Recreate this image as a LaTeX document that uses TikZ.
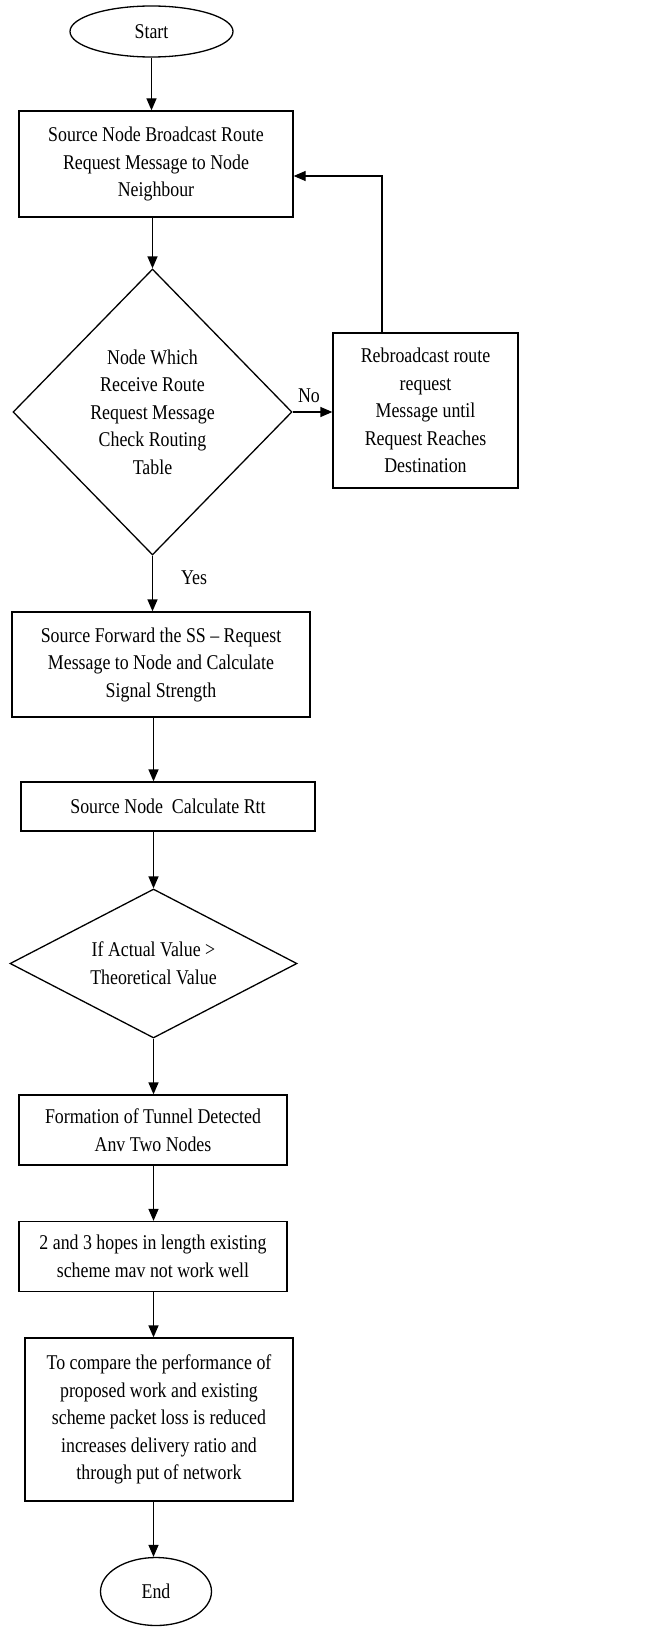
\documentclass[tikz,border=0pt]{standalone}
\usepackage{fontspec}
\setmainfont{Liberation Serif}[FakeStretch=0.85]
\usetikzlibrary{shapes.geometric,arrows.meta}
\begin{document}
\begin{tikzpicture}[x=1pt,y=1pt,
  every node/.style={font=\fontsize{21}{27.5}\selectfont, align=center},
  procbox/.style={draw, line width=1.3pt, rectangle, inner sep=0pt},
  termbox/.style={draw, line width=1.3pt, ellipse, inner sep=0pt},
  decbox/.style={draw, line width=1.3pt, diamond, inner sep=0pt},
  conn/.style={line width=1.3pt, -{Triangle[length=12pt,width=10pt]}},
  lbl/.style={inner sep=0pt}
]
\useasboundingbox (0,0) rectangle (653,-1627);
\node[termbox, minimum width=163pt, minimum height=51pt] (start) at (151.5,-31.5) {Start};
\node[procbox, minimum width=274pt, minimum height=106pt] (b1) at (156,-164) {Source Node Broadcast Route\\Request Message to Node\\Neighbour};
\node[decbox, minimum width=279pt, minimum height=286pt] (d1) at (152.5,-412) {Node Which\\Receive Route\\Request Message\\Check Routing\\Table};
\node[procbox, minimum width=185pt, minimum height=155pt] (rb) at (425.5,-410.5) {Rebroadcast route\\request\\Message until\\Request Reaches\\Destination};
\node[procbox, minimum width=298pt, minimum height=105pt] (b2) at (161,-664.5) {Source Forward the SS -- Request\\Message to Node and Calculate\\Signal Strength};
\node[procbox, minimum width=294pt, minimum height=49pt] (b3) at (168,-806.5) {Source Node\ \ Calculate Rtt};
\node[decbox, aspect=1.93, minimum width=287pt, minimum height=149pt] (d2) at (153.5,-963.5) {If Actual Value >\\Theoretical Value};
\node[procbox, minimum width=268pt, minimum height=70pt] (b4) at (153,-1130) {Formation of Tunnel Detected\\Anv Two Nodes};
\node[procbox, minimum width=268pt, minimum height=70pt] (b5) at (153,-1256.5) {2 and 3 hopes in length existing\\scheme mav not work well};
\node[procbox, minimum width=268pt, minimum height=163pt] (b6) at (159,-1419.5) {To compare the performance of\\proposed work and existing\\scheme packet loss is reduced\\increases delivery ratio and\\through put of network};
\node[termbox, minimum width=111pt, minimum height=68pt] (end) at (156,-1591.5) {End};
\node[lbl] (no) at (309,-396) {No};
\node[lbl] (yes) at (194,-578) {Yes};
\coordinate (lp) at (382,-176);
\draw[conn] (start.south) -- (start.south |- b1.north);
\draw[conn] (b1.south -| d1.north) -- (d1.north);
\draw[conn] (d1.east) -- (rb.west |- d1.east);
\draw[conn] (rb.north -| lp) -- (lp) -- (b1.east |- lp);
\draw[conn] (d1.south) -- (d1.south |- b2.north);
\draw[conn] (b2.south -| d2.north) -- (b3.north -| d2.north);
\draw[conn] (b3.south -| d2.north) -- (d2.north);
\draw[conn] (d2.south) -- (d2.south |- b4.north);
\draw[conn] (b4.south -| d2.south) -- (b5.north -| d2.south);
\draw[conn] (b5.south -| d2.south) -- (b6.north -| d2.south);
\draw[conn] (b6.south -| d2.south) -- (end.north -| d2.south);
\end{tikzpicture}
\end{document}
